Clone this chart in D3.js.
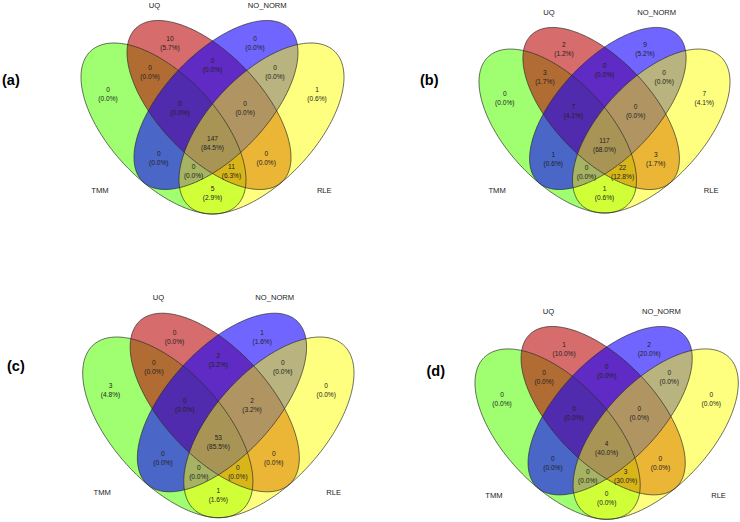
<!DOCTYPE html>
<html>
<head>
<meta charset="utf-8">
<script src="https://cdn.jsdelivr.net/npm/d3@7"></script>
<style>
  html, body { margin: 0; padding: 0; background: #ffffff; }
  svg { display: block; }
</style>
</head>
<body>
<svg id="chart" width="740" height="522"></svg>
<script>
// ---------------- DATA ----------------
const categories = ["TMM", "UQ", "NO_NORM", "RLE"];
const panelLabels = ["(a)", "(b)", "(c)", "(d)"];
// region keys (sets joined by &)
const regionKeys = [
  "UQ", "NO_NORM", "TMM", "RLE",
  "TMM&UQ", "UQ&NO_NORM", "NO_NORM&RLE",
  "TMM&UQ&NO_NORM", "UQ&NO_NORM&RLE",
  "TMM&UQ&NO_NORM&RLE",
  "TMM&NO_NORM", "UQ&RLE",
  "TMM&NO_NORM&RLE", "TMM&UQ&RLE",
  "TMM&RLE"
];
const countsA = [10, 0, 0, 1, 0, 0, 0, 0, 0, 147, 0, 0, 0, 11, 5];
const countsB = [2, 9, 0, 7, 3, 0, 0, 7, 0, 117, 1, 3, 0, 22, 1];
const countsC = [0, 1, 3, 0, 0, 2, 0, 0, 2, 53, 0, 0, 0, 0, 1];
const countsD = [1, 2, 0, 0, 0, 0, 0, 0, 0, 4, 0, 0, 0, 3, 0];
const panelCounts = [countsA, countsB, countsC, countsD];

// ---------------- LAYOUT (unit space of each diagram) ----------------
const setColors = { TMM: "#61ff11", UQ: "#bc0a0a", NO_NORM: "#1100ff", RLE: "#ffff00" };
const setAlpha = { TMM: 0.6, UQ: 0.6, NO_NORM: 0.6, RLE: 0.5 };
// ellipse geometry: center, half-extent in x / y, correlation
const ellipses = {
  TMM:     { cx: 0.3137, cy: 0.5593, ex: 0.3137, ey: 0.4407, r: 0.60 },
  UQ:      { cx: 0.4867, cy: 0.4381, ex: 0.3118, ey: 0.4356, r: 0.62 },
  NO_NORM: { cx: 0.5133, cy: 0.4381, ex: 0.3118, ey: 0.4356, r: -0.62 },
  RLE:     { cx: 0.6863, cy: 0.5593, ex: 0.3137, ey: 0.4407, r: -0.60 }
};
const regionPos = {
  "UQ": [0.3384, 0.0964], "NO_NORM": [0.6616, 0.0964],
  "TMM": [0.1027, 0.3572], "RLE": [0.8973, 0.3572],
  "TMM&UQ": [0.2624, 0.2438], "NO_NORM&RLE": [0.7376, 0.2438],
  "UQ&NO_NORM": [0.5, 0.2098],
  "TMM&UQ&NO_NORM": [0.3760, 0.4294], "UQ&NO_NORM&RLE": [0.6240, 0.4294],
  "TMM&UQ&NO_NORM&RLE": [0.5, 0.6098],
  "TMM&NO_NORM": [0.2958, 0.6871], "UQ&RLE": [0.7042, 0.6871],
  "TMM&NO_NORM&RLE": [0.4281, 0.7562], "TMM&UQ&RLE": [0.5719, 0.7562],
  "TMM&RLE": [0.5, 0.8696]
};
const setLabelPos = {
  UQ: [0.279, -0.077], NO_NORM: [0.708, -0.077],
  TMM: [0.072, 0.876], RLE: [0.925, 0.876]
};
const panelBoxes = [
  { x: [81, 344],   y: [20, 214],    letter: [2, 80] },
  { x: [479, 730],  y: [27, 213],    letter: [420, 80] },
  { x: [82.7, 354], y: [312.7, 517.7], letter: [7, 366] },
  { x: [475, 738.3], y: [326, 519.3], letter: [426.5, 371] }
];
const drawOrder = ["TMM", "UQ", "NO_NORM", "RLE"];
const FONT = "'Liberation Sans', Arial, Helvetica, sans-serif";

const svg = d3.select("#chart");
const tSteps = d3.range(0, 200).map(i => i / 200 * 2 * Math.PI);
const fmt = d3.format(".1f");

panelBoxes.forEach((box, pi) => {
  const xs = d3.scaleLinear().domain([0, 1]).range(box.x);
  const ys = d3.scaleLinear().domain([0, 1]).range(box.y);
  const g = svg.append("g");

  const ellPts = k => {
    const e = ellipses[k];
    const s = Math.sqrt(1 - e.r * e.r);
    return tSteps.map(t => [e.cx + e.ex * Math.cos(t), e.cy + e.ey * (e.r * Math.cos(t) + s * Math.sin(t))]);
  };
  const line = d3.line().x(d => xs(d[0])).y(d => ys(d[1])).curve(d3.curveLinearClosed);

  // fills
  g.selectAll("path.fill").data(drawOrder).enter().append("path")
    .attr("class", "fill")
    .attr("d", k => line(ellPts(k)))
    .attr("fill", k => setColors[k])
    .attr("fill-opacity", k => setAlpha[k])
    .attr("stroke", "none");
  // outlines
  g.selectAll("path.outline").data(drawOrder).enter().append("path")
    .attr("class", "outline")
    .attr("d", k => line(ellPts(k)))
    .attr("fill", "none")
    .attr("stroke", "#2a2a2a")
    .attr("stroke-opacity", 0.85)
    .attr("stroke-width", 0.8);

  // region labels
  const counts = panelCounts[pi];
  const total = d3.sum(counts);
  const regions = regionKeys.map((k, i) => ({ key: k, n: counts[i], pct: counts[i] / total * 100 }));
  const lbl = g.selectAll("g.region").data(regions).enter().append("g")
    .attr("class", "region")
    .attr("transform", d => `translate(${xs(regionPos[d.key][0])},${ys(regionPos[d.key][1])})`);
  lbl.append("text")
    .attr("text-anchor", "middle").attr("dy", "0.35em")
    .style("font-family", FONT).style("font-size", "6.6px").attr("fill", "#222")
    .text(d => d.n);
  lbl.append("text")
    .attr("text-anchor", "middle").attr("y", 9).attr("dy", "0.35em")
    .style("font-family", FONT).style("font-size", "6.6px").attr("fill", "#222")
    .text(d => `(${fmt(d.pct)}%)`);

  // set labels
  g.selectAll("text.setlabel").data(categories).enter().append("text")
    .attr("class", "setlabel")
    .attr("x", k => xs(setLabelPos[k][0]))
    .attr("y", k => ys(setLabelPos[k][1]))
    .attr("dy", "0.35em")
    .attr("text-anchor", "middle")
    .style("font-family", FONT).style("font-size", "7.6px").attr("fill", "#222")
    .text(k => k);

  // panel letter
  g.append("text")
    .attr("x", box.letter[0]).attr("y", box.letter[1]).attr("dy", "0.35em")
    .style("font-family", FONT).style("font-size", "14.5px").style("font-weight", "bold")
    .attr("fill", "#000")
    .text(panelLabels[pi]);
});
</script>
</body>
</html>
